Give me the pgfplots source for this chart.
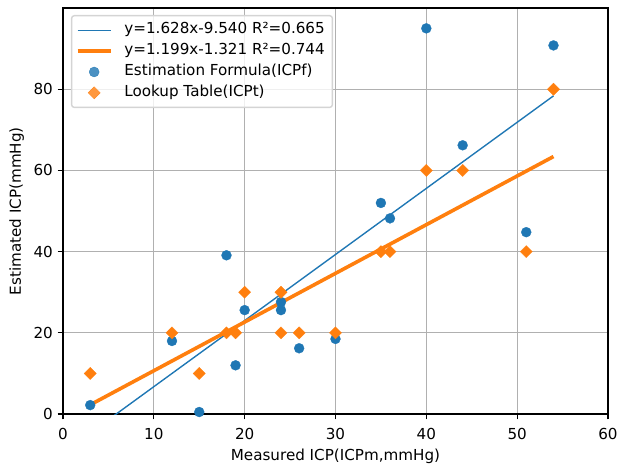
\documentclass[border=0pt]{standalone}
\usepackage{fontspec}
\setmainfont{DejaVu Sans}
\usepackage{pgfplots}
\pgfplotsset{compat=1.18}
\definecolor{c0}{HTML}{1F77B4}
\definecolor{c1}{HTML}{FF7F0E}
\definecolor{gridc}{HTML}{B0B0B0}
\newcommand{\mpl}{\fontsize{10.9}{13}\selectfont}
\begin{document}
\begin{tikzpicture}
\begin{axis}[
    scale only axis,
    width=392pt,
    height=292pt,
    xmin=0, xmax=60,
    ymin=0, ymax=100,
    xtick={0,10,...,60},
    ytick={0,20,...,80},
    grid=major,
    grid style={gridc, line width=0.8pt},
    axis line style={line width=0.8pt},
    tick style={black, line width=0.8pt},
    tick align=outside,
    major tick length=3.8pt,
    xtick pos=left, ytick pos=left,
    /pgf/number format/assume math mode=true,
    tick label style={font=\mpl},
    xticklabel style={yshift=-2.6pt},
    label style={font=\mpl},
    xlabel={Measured ICP(ICPm,mmHg)},
    ylabel={Estimated ICP(mmHg)},
    legend cell align=left,
    legend style={at={(axis description cs:0.0145,0.983)}, anchor=north west,
        draw=black!17, line width=1pt,
        rounded corners=2pt, fill=white, fill opacity=0.8, text opacity=1,
        font=\mpl, row sep=0pt, column sep=6pt, inner sep=3pt,
        nodes={inner sep=2.5pt, text height=0.76em, text depth=0.24em}},
    legend image code/.code={\draw[mark repeat=2,mark phase=2]
        plot coordinates {(0cm,0cm)(0.42cm,0cm)(0.84cm,0cm)};},
]

% Estimation Formula (ICPf)
\addplot[only marks, color=c0, mark=*, mark size=3.6pt, mark options={line width=0.2pt}, forget plot] table {
x y
3 2.2
12 18
15 0.5
18 39.1
19 12
20 25.6
24 27.6
24 25.6
26 16.2
30 18.5
35 52
36 48.2
40 95
44 66.2
51 44.8
54 90.8
};

% Lookup Table (ICPt)
\addplot[only marks, color=c1, mark=square*, mark size=3.1pt, mark options={rotate=45, line width=0.2pt}, forget plot] table {
x y
3 10
12 20
15 10
18 20
19 20
20 30
24 30
24 20
26 20
30 20
35 40
36 40
40 60
44 60
51 40
54 80
};

% fits
\addplot[c0, line width=1pt] coordinates {(3,-4.656) (54,78.372)};
\addlegendentry{y=1.628x-9.540 R²=0.665}
\addplot[c1, line width=2.6pt] coordinates {(3,2.276) (54,63.425)};
\addlegendentry{y=1.199x-1.321 R²=0.744}

\addlegendimage{only marks, color=c0, mark=*, mark size=3.6pt, mark options={line width=0.2pt}}
\addlegendentry{Estimation Formula(ICPf)}
\addlegendimage{only marks, color=c1, mark=square*, mark size=3.1pt, mark options={rotate=45, line width=0.2pt}}
\addlegendentry{Lookup Table(ICPt)}

\end{axis}
\pgfresetboundingbox
\path[use as bounding box] ([shift={(-45.3pt,-36pt)}]current axis.south west)
    rectangle ([shift={(7.2pt,5.8pt)}]current axis.north east);
\end{tikzpicture}
\end{document}
